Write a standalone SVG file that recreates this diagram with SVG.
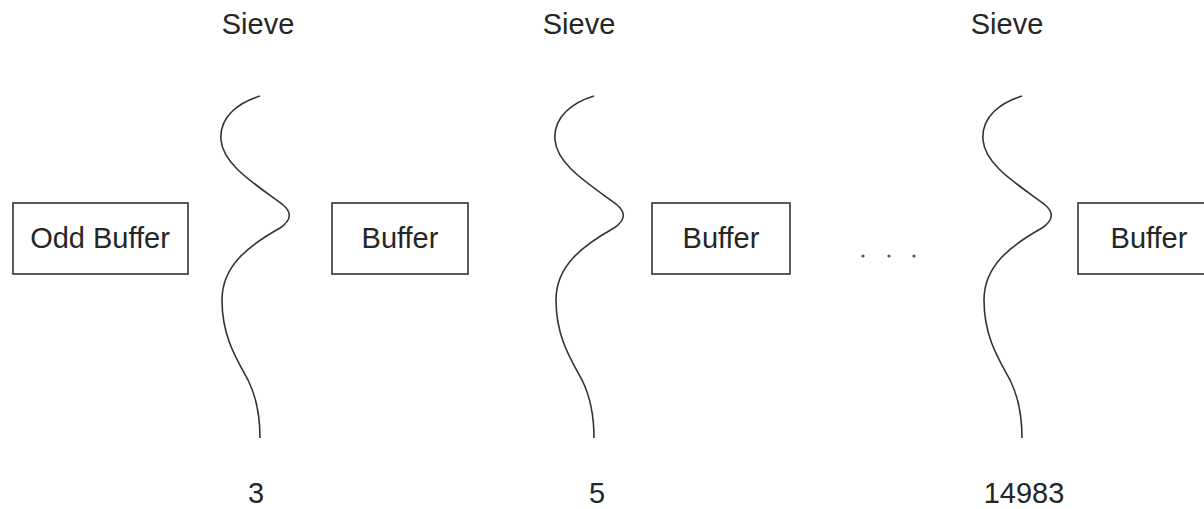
<svg xmlns="http://www.w3.org/2000/svg" width="1204" height="509" viewBox="0 0 1204 509">
  <style>
    .box { fill: #ffffff; stroke: #333333; stroke-width: 1.6; }
    .wave { fill: none; stroke: #333333; stroke-width: 1.6; }
    .lbl { font-family: "Liberation Sans", Arial, sans-serif; font-size: 29px; fill: #262626; text-anchor: middle; }
    .dot { fill: #555555; }
  </style>
  <defs>
    <!-- one sieve curve, drawn from its top point at (0,0) -->
    <path id="sieveCurve" d="M0,0 C-20,6 -41,20 -39,44 C-37,68 -8,86 22,108 C32,116 32,124 20,132 C-12,150 -38,170 -38,204 C-38,240 -24,262 -12,284 C-3,302 0,320 0,342"/>
  </defs>

  <rect width="1204" height="509" fill="#ffffff"/>

  <g id="connectors">
    <use href="#sieveCurve" class="wave" transform="translate(260,96)"/>
    <use href="#sieveCurve" class="wave" transform="translate(594,96)"/>
    <use href="#sieveCurve" class="wave" transform="translate(1022,96)"/>
  </g>

  <g id="odd-buffer">
    <rect class="box" x="13" y="203" width="175" height="71"/>
    <text class="lbl" x="100" y="248">Odd Buffer</text>
  </g>

  <g id="buffer-1">
    <rect class="box" x="332" y="203" width="136" height="71"/>
    <text class="lbl" x="400" y="248">Buffer</text>
  </g>

  <g id="buffer-2">
    <rect class="box" x="652" y="203" width="138" height="71"/>
    <text class="lbl" x="721" y="248">Buffer</text>
  </g>

  <g id="buffer-3">
    <rect class="box" x="1078" y="203" width="142" height="71"/>
    <text class="lbl" x="1149" y="248">Buffer</text>
  </g>

  <g id="ellipsis">
    <circle class="dot" cx="863" cy="256" r="1.6"/>
    <circle class="dot" cx="889" cy="256" r="1.6"/>
    <circle class="dot" cx="914" cy="256" r="1.6"/>
  </g>

  <g id="sieve-1">
    <text class="lbl" x="258" y="34">Sieve</text>
    <text class="lbl" x="256" y="503">3</text>
  </g>
  <g id="sieve-2">
    <text class="lbl" x="579" y="34">Sieve</text>
    <text class="lbl" x="597" y="503">5</text>
  </g>
  <g id="sieve-3">
    <text class="lbl" x="1007" y="34">Sieve</text>
    <text class="lbl" x="1024" y="503">14983</text>
  </g>
</svg>
